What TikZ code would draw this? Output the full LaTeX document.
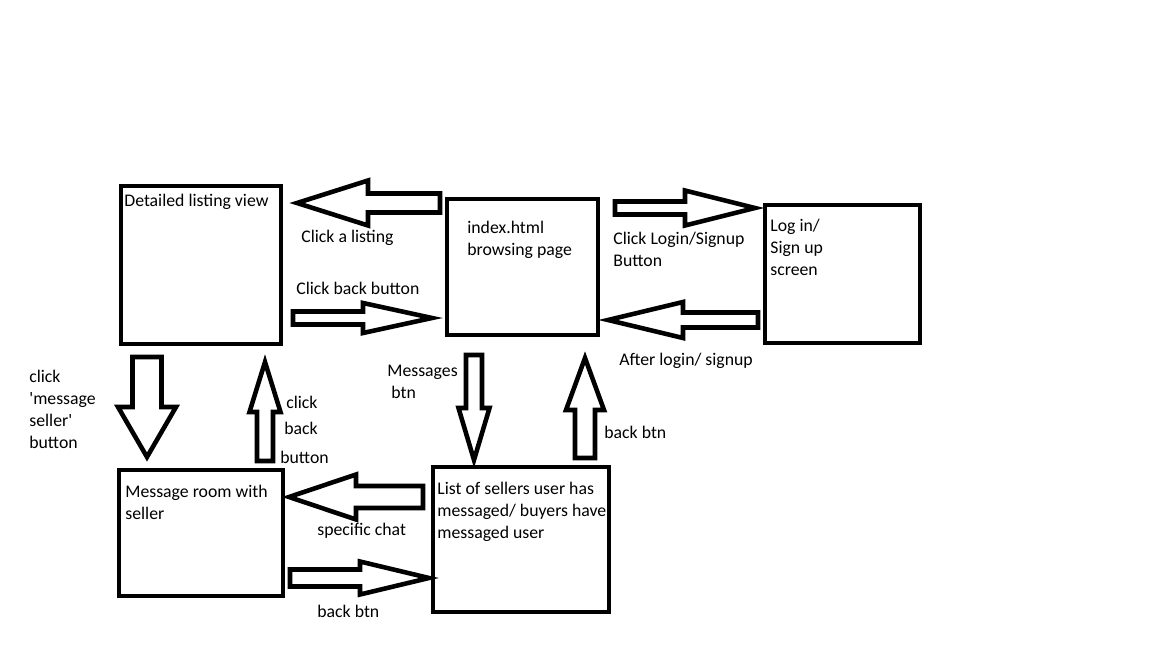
\documentclass[tikz,border=0pt]{standalone}
\usepackage{fontspec}
\setmainfont{Carlito}
\usetikzlibrary{positioning}

\begin{document}
\begin{tikzpicture}[x=0.02cm, y=0.02cm,
    screen/.style={draw, line width=2.8pt, rectangle, inner sep=0pt},
    arrowshape/.style={draw, line width=2.6pt, line join=miter},
    lbl/.style={font=\fontsize{10.1}{12.5}\selectfont, inner sep=0pt, align=left, anchor=north west}]
                \useasboundingbox (0,0) rectangle (1152,-648);

                % Draw screens
                \node[screen, minimum width=3.2cm, minimum height=3.16cm] (detail) at (201,-265) {};
                \node[screen, minimum width=3.02cm, minimum height=2.72cm] (index) at (522.5,-267) {};
                \node[screen, minimum width=3.1cm, minimum height=2.76cm] (login) at (842.5,-274) {};
                \node[screen, minimum width=3.28cm, minimum height=2.52cm] (room) at (201,-533) {};
                \node[screen, minimum width=3.52cm, minimum height=2.9cm] (chats) at (521,-539.5) {};

                % Screen titles
                \node[lbl] (detailtxt) at (124,-194) {Detailed listing view};
                \node[lbl] (indextxt) at (467,-221) {index.html\\browsing page};
                \node[lbl] (logintxt) at (770,-219) {Log in/\\Sign up\\screen};
                \node[lbl] (roomtxt) at (125,-485) {Message room with\\seller};
                \node[lbl] (chatstxt) at (437,-482) {List of sellers user has\\messaged/ buyers have\\messaged user};

                % Draw block arrows: tail x / tail y / length / angle / shaft / head width / head length
                \foreach \tx/\ty/\len/\ang/\sw/\hw/\hl in {
                    440/203/143/180/9.5/22.5/71,
                    293/318/139/0/6.5/15/69,
                    615/208/140/0/6.5/17.5/70,
                    758/320/150/180/7.5/18/75,
                    147/357/100/270/14.5/29/50,
                    265/461/99/90/8/15.5/50,
                    474/355/105/270/8/15.5/52,
                    585/458/100/90/10/19/52,
                    423/497/134/180/11/22.5/67,
                    290/578/139/0/8.5/16.5/69} {
                    \draw[arrowshape, shift={(\tx,-\ty)}, rotate=\ang]
                        (0,-\sw) -- (\len-\hl,-\sw) -- (\len-\hl,-\hw) -- (\len,0)
                        -- (\len-\hl,\hw) -- (\len-\hl,\sw) -- (0,\sw) -- cycle;
                }

                % Arrow labels
                \node[lbl] (clicklisting) at (301,-230) {Click a listing};
                \node[lbl] (clickback) at (296,-282) {Click back button};
                \node[lbl] (clicklogin) at (613,-232) {Click Login/Signup\\Button};
                \node[lbl] (afterlogin) at (619,-353) {After login/ signup};
                \node[lbl] (msgseller) at (29,-370) {click\\\textquotesingle message\\seller\textquotesingle\\button};
                \node[lbl] (clickback2) at (286,-396) {click};
                \node[lbl] (clickback3) at (284,-422) {back};
                \node[lbl] (clickback4) at (280,-451) {button};
                \node[lbl] (msgbtn) at (387,-365) {Messages\\\ btn};
                \node[lbl] (backbtn) at (604,-426) {back btn};
                \node[lbl] (specific) at (317,-523) {specific chat};
                \node[lbl] (backbtn2) at (317,-605) {back btn};
            \end{tikzpicture}
\end{document}
